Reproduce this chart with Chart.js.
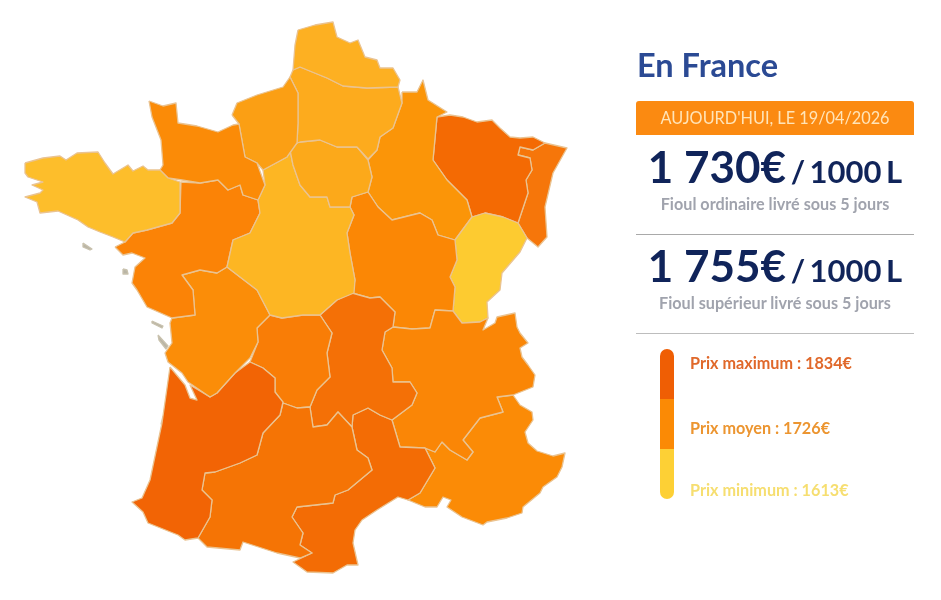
<!DOCTYPE html>
<html lang="fr"><head><meta charset="utf-8"><title>En France</title>
<script src="https://cdn.jsdelivr.net/npm/chart.js@4"></script>
<style>
html,body{margin:0;padding:0;background:#fff;width:941px;height:600px;overflow:hidden;font-family:Lato,sans-serif}
#c{position:absolute;left:0;top:0;width:941px;height:600px}
.t{position:absolute;white-space:nowrap;line-height:1}
.ctr{left:636px;width:278px;text-align:center}
.rule{position:absolute;left:636px;width:278px;height:1px}
.seg{position:absolute;left:660px;width:14px}
.unit{font-size:31px;font-weight:700;word-spacing:-3px}
</style></head><body>
<canvas id="c" width="941" height="600"></canvas>
<div class="t" style="left:637px;top:49px;font-size:32.5px;font-weight:700;color:#2b4a94">En France</div>
<div style="position:absolute;left:636px;top:101px;width:278px;height:34px;background:#fb8a11;border-radius:3px 3px 0 0"></div>
<div class="t ctr" style="top:110px;font-size:16.3px;color:#ffe4b8">AUJOURD'HUI, LE 19/04/2026</div>
<div class="t ctr" style="top:144px;color:#10245a;font-weight:700;font-size:44px">1 730€<span class="unit"> / 1000 L</span></div>
<div class="t ctr" style="top:196px;font-size:16.2px;font-weight:700;color:#a0a3ad">Fioul ordinaire livré sous 5 jours</div>
<div class="rule" style="top:234px;background:#a9a9a9"></div>
<div class="t ctr" style="top:243px;color:#10245a;font-weight:700;font-size:44px">1 755€<span class="unit"> / 1000 L</span></div>
<div class="t ctr" style="top:295px;font-size:16.2px;font-weight:700;color:#a0a3ad">Fioul supérieur livré sous 5 jours</div>
<div class="rule" style="top:333px;background:#bdbdbd"></div>
<div class="seg" style="top:349px;height:50px;background:#ef5e04;border-radius:7px 7px 0 0"></div>
<div class="seg" style="top:399px;height:50px;background:#fb8a05"></div>
<div class="seg" style="top:449px;height:50px;background:#fdd035;border-radius:0 0 7px 7px"></div>
<div class="t" style="left:690px;top:355px;font-size:16.2px;font-weight:700;color:#e0682a">Prix maximum : 1834€</div>
<div class="t" style="left:690px;top:420px;font-size:16.2px;font-weight:700;color:#ec9530">Prix moyen : 1726€</div>
<div class="t" style="left:690px;top:482px;font-size:16.2px;font-weight:700;color:#f6de70">Prix minimum : 1613€</div>
<script>
const bretagne=[[25,163],[43,158],[60,156],[66,160],[77,153],[98,152],[105,163],[113,174],[128,165],[133,171],[143,166],[148,170],[160,170],[168,178],[180,182],[180,213],[172,223],[147,230],[133,233],[125,242],[113,237],[100,232],[88,227],[78,220],[58,211],[40,213],[37,202],[25,197],[40,193],[43,190],[32,185],[43,182],[28,177],[25,173]];
const normandie=[[149,101],[163,106],[176,103],[178,123],[197,126],[218,132],[233,125],[239,124],[245,157],[257,163],[265,185],[258,200],[243,195],[240,185],[228,190],[218,180],[200,183],[182,180],[168,178],[160,170],[163,165],[161,140],[152,117]];
const hauteNormandie=[[232,115],[237,103],[257,95],[283,87],[290,77],[298,93],[298,123],[297,143],[287,157],[263,170],[257,163],[245,157],[239,124]];
const nord=[[298,30],[315,25],[333,22],[337,37],[350,43],[358,40],[365,57],[377,60],[380,68],[393,68],[400,80],[398,87],[367,88],[343,86],[327,78],[300,67],[293,70],[295,45]];
const picardie=[[290,77],[293,70],[300,67],[327,78],[343,86],[367,88],[398,87],[402,103],[393,128],[380,137],[377,150],[368,159],[357,147],[337,147],[320,140],[300,142],[297,143],[298,123],[298,93]];
const ileDeFrance=[[290,150],[297,143],[300,142],[320,140],[337,147],[357,147],[368,160],[372,177],[368,192],[352,197],[350,207],[330,207],[327,197],[310,197],[300,185],[293,165]];
const centre=[[263,170],[287,157],[290,150],[293,165],[300,185],[310,197],[327,197],[330,207],[350,207],[354,215],[347,233],[350,253],[355,280],[354,293],[337,300],[320,315],[303,315],[282,318],[270,315],[257,290],[240,277],[227,267],[233,240],[250,233],[260,213],[258,200],[265,185]];
const paysDeLaLoire=[[115,247],[125,242],[133,233],[147,230],[172,223],[180,213],[181,182],[200,183],[218,180],[228,190],[240,185],[243,195],[258,200],[260,213],[250,233],[233,240],[227,267],[217,273],[200,270],[182,275],[193,290],[195,315],[172,318],[147,307],[137,290],[132,283],[135,267],[145,258],[132,253],[123,255]];
const poitou=[[182,275],[200,270],[217,273],[227,267],[240,277],[257,290],[270,315],[257,328],[258,342],[250,358],[235,373],[217,393],[210,397],[188,382],[182,373],[168,362],[165,353],[172,343],[170,323],[172,318],[195,315],[193,290]];
const aquitaine=[[170,367],[185,385],[190,398],[197,400],[190,385],[210,397],[217,393],[235,373],[250,362],[263,368],[275,378],[275,392],[283,402],[280,415],[263,433],[257,455],[240,463],[215,472],[205,473],[202,490],[212,500],[210,517],[198,538],[185,540],[178,535],[148,523],[143,512],[132,502],[142,498],[150,480],[162,423]];
const midiPyrenees=[[283,403],[297,408],[310,407],[313,427],[327,425],[338,412],[352,427],[357,450],[368,458],[372,470],[348,490],[335,495],[333,503],[297,507],[292,517],[303,533],[300,545],[312,553],[300,558],[277,553],[243,542],[240,550],[207,547],[198,538],[210,517],[212,500],[202,490],[205,473],[215,472],[240,463],[257,455],[263,433],[280,415]];
const limousin=[[270,315],[282,318],[303,315],[320,315],[332,333],[327,353],[330,377],[317,390],[310,407],[297,408],[283,403],[275,392],[275,378],[263,368],[250,362],[258,342],[257,328]];
const auvergne=[[320,315],[337,300],[352,293],[370,298],[380,297],[395,312],[393,327],[385,332],[382,350],[392,368],[393,382],[410,382],[417,393],[412,405],[392,420],[380,415],[368,408],[353,415],[352,427],[338,412],[327,425],[313,427],[310,407],[317,390],[330,377],[327,353],[332,333]];
const languedoc=[[352,427],[353,415],[368,408],[380,415],[392,420],[400,447],[425,448],[435,468],[420,493],[408,500],[398,497],[377,510],[362,520],[355,530],[353,543],[358,565],[347,565],[333,573],[307,572],[293,562],[312,553],[300,545],[303,533],[292,517],[297,507],[333,503],[335,495],[348,490],[372,470],[368,458],[357,450]];
const rhoneAlpes=[[393,327],[412,329],[430,328],[435,310],[453,311],[462,323],[480,322],[488,318],[483,330],[495,323],[497,317],[515,313],[517,327],[520,333],[528,343],[520,348],[522,357],[528,365],[535,375],[533,387],[513,395],[497,397],[503,412],[480,418],[463,440],[473,452],[467,460],[450,450],[442,442],[435,452],[425,448],[400,447],[392,420],[412,405],[417,393],[410,382],[393,382],[392,368],[382,350],[385,332]];
const paca=[[497,397],[513,395],[520,405],[532,412],[533,420],[525,432],[528,443],[537,451],[553,456],[565,453],[562,467],[557,477],[543,487],[540,493],[523,507],[522,513],[507,518],[487,522],[483,525],[462,517],[447,507],[451,500],[443,497],[437,507],[425,507],[408,500],[420,493],[435,468],[425,448],[435,452],[442,442],[450,450],[467,460],[473,452],[463,440],[480,418],[503,412]];
const bourgogne=[[352,197],[368,192],[378,207],[392,220],[420,213],[432,220],[438,235],[455,240],[457,260],[450,277],[455,287],[453,311],[435,310],[430,328],[412,329],[393,327],[395,312],[380,297],[370,298],[352,293],[355,280],[350,253],[347,233],[354,215],[350,207]];
const francheComte=[[455,240],[472,217],[485,213],[503,217],[518,223],[527,238],[520,252],[502,273],[500,290],[487,302],[488,318],[480,322],[462,323],[453,311],[455,287],[450,277],[457,260]];
const champagne=[[402,92],[417,92],[423,80],[428,100],[447,112],[437,117],[433,160],[447,180],[467,200],[472,217],[455,240],[438,235],[432,220],[420,213],[392,220],[378,207],[368,192],[372,177],[368,160],[377,150],[380,137],[393,128],[402,103]];
const lorraine=[[437,117],[450,115],[463,117],[477,122],[492,120],[500,128],[510,137],[520,138],[533,137],[545,143],[533,150],[520,147],[518,155],[530,158],[532,170],[526,180],[528,193],[518,223],[503,217],[485,213],[472,217],[467,200],[447,180],[433,160]];
const alsace=[[545,143],[567,148],[553,173],[545,207],[547,237],[538,247],[527,238],[518,223],[528,193],[526,180],[532,170],[530,158],[518,155],[520,147],[533,150]];
const belleIle=[[83,243],[92,249],[90,250],[83,247]];
const noirmoutier=[[123,269],[127,270],[128,274],[124,274]];
const ileDeRe=[[152,321],[163,326],[162,328],[152,323]];
const oleron=[[158,335],[168,346],[166,349],[159,340]];
const bassinArcachon=[[163,416],[170,423],[161,424]];

const regions=[bretagne,normandie,hauteNormandie,nord,picardie,ileDeFrance,centre,paysDeLaLoire,poitou,aquitaine,midiPyrenees,limousin,auvergne,languedoc,rhoneAlpes,paca,bourgogne,francheComte,champagne,lorraine,alsace];
const regionNames=["Bretagne","Basse-Normandie","Haute-Normandie","Nord-Pas-de-Calais","Picardie","Île-de-France","Centre","Pays de la Loire","Poitou-Charentes","Aquitaine","Midi-Pyrénées","Limousin","Auvergne","Languedoc-Roussillon","Rhône-Alpes","Provence-Alpes-Côte d'Azur","Bourgogne","Franche-Comté","Champagne-Ardenne","Lorraine","Alsace"];
const regionColors=["#fdbe2b","#fb8b07","#fb9f14","#fdb022","#fdab1d","#fca91a","#fdb623","#fb8306","#fb8d08","#f26405","#f57405","#f97d06","#f47006","#f36c05","#fa8606","#fb8b06","#fb8705","#fdcb30","#fb9508","#f46a03","#f6760a"];
const islands=[belleIle,noirmoutier,ileDeRe,oleron];

const toPts=a=>a.concat([a[0]]).map(p=>({x:p[0],y:p[1]}));
const shape=(label,pts,fill,stroke)=>({label,data:toPts(pts),showLine:true,fill:'shape',backgroundColor:fill,borderColor:stroke,borderWidth:1.3,pointRadius:0,pointHoverRadius:0,tension:0,borderJoinStyle:'round'});
const datasets=regions.map((r,i)=>shape(regionNames[i],r,regionColors[i],'#eac391'));
islands.forEach(r=>datasets.push(shape('Île',r,'#b9b5a6','#c9c2ae')));
datasets.push(shape('Bassin',bassinArcachon,'#ffffff','#d8d2c4'));
new Chart(document.getElementById('c'),{type:'scatter',data:{datasets},options:{
 responsive:false,animation:false,layout:{padding:0},
 plugins:{legend:{display:false},tooltip:{enabled:false}},
 scales:{x:{type:'linear',min:0,max:941,display:false},y:{type:'linear',min:0,max:600,reverse:true,display:false}}
}});
</script>
</body></html>
